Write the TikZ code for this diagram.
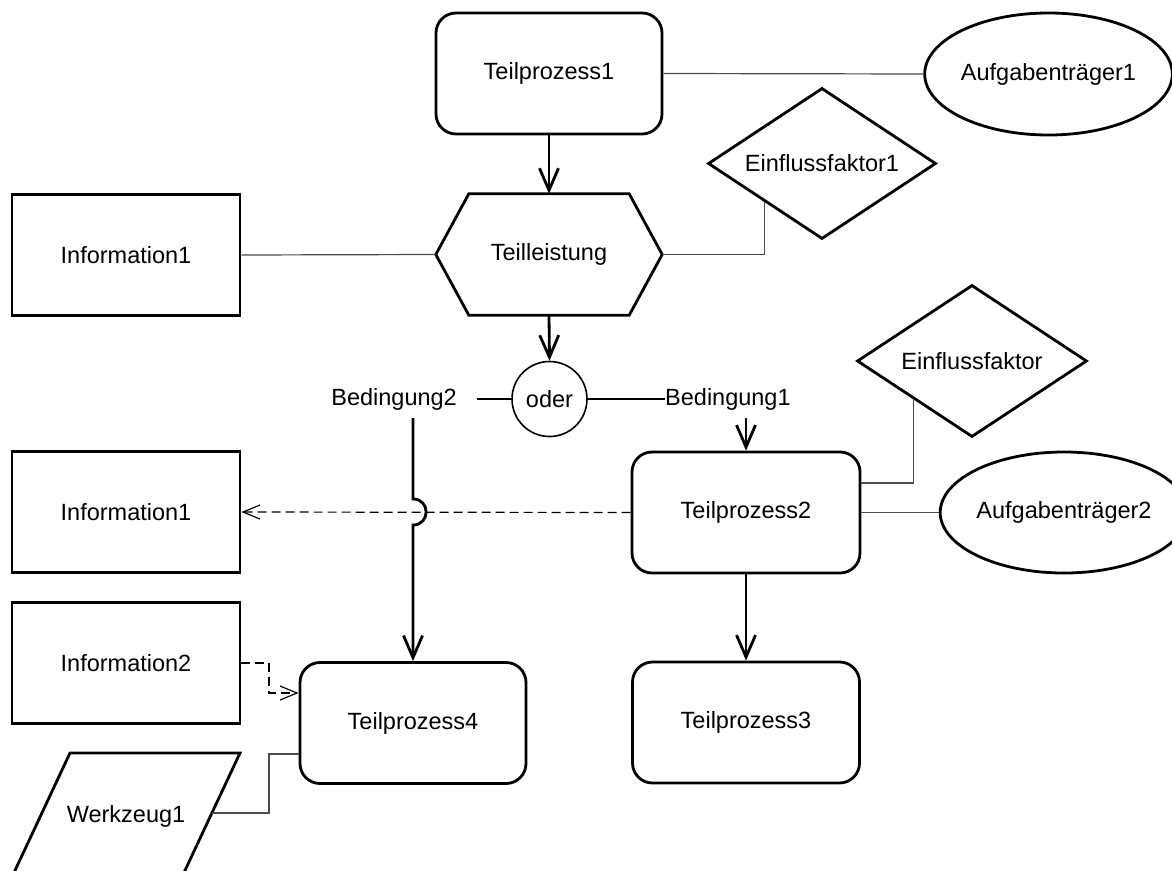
\documentclass[tikz,border=0pt]{standalone}
\usepackage{fontspec}
\setmainfont{Liberation Sans}
\usetikzlibrary{shapes.geometric,arrows.meta,calc}
\begin{document}
\begin{tikzpicture}[x=1pt,y=-1pt,
  every node/.style={font=\fontsize{23.5}{27}\selectfont, inner sep=0pt},
  box/.style={draw, line width=2.8pt, minimum width=228pt, minimum height=121pt},
  proc/.style={box, rounded corners=20pt, minimum width=226pt},
  ell/.style={draw, ellipse, line width=2.8pt, minimum width=227pt, minimum height=122pt},
  dia/.style={draw, diamond, line width=2.8pt, minimum width=228pt, minimum height=151pt, aspect=1.5},
  flow/.style={line width=2.8pt, -{Straight Barb[length=22pt,width=19pt]}},
  assoc/.style={line width=1.2pt, draw=black!70},
  dataflow/.style={line width=1.2pt, dash pattern=on 9pt off 5pt, -{Straight Barb[length=17pt,width=14pt]}},
]
\useasboundingbox[fill=white] (0,0) rectangle (1172,870);

% nodes
\node[proc] (tp1) at (549,73.5) {Teilprozess1};
\node[ell] (at1) at (1048.5,74) {Aufgabenträger1};
\node[dia] (ef1) at (822,163.5) {Einflussfaktor1};
\node[box] (inf1) at (126,255) {Information1};
\node[minimum width=226pt, minimum height=121pt] (tl) at (549,254.5) {Teilleistung};
\draw[line width=2.8pt, line join=miter]
  (tl.west) -- ([xshift=33pt]tl.north west) -- ([xshift=-33pt]tl.north east)
  -- (tl.east) -- ([xshift=-33pt]tl.south east) -- ([xshift=33pt]tl.south west) -- cycle;
\node[circle, draw, line width=1.6pt, minimum size=75pt] (oder) at (549.5,399) {oder};
\node[anchor=east] (b2) at (457,399) {Bedingung2};
\node[anchor=west] (b1) at (665,399) {Bedingung1};
\node[dia, minimum width=230pt, minimum height=152pt] (ef) at (972,361) {Einflussfaktor};
\node[proc, minimum width=228pt] (tp2) at (746,512.5) {Teilprozess2};
\node[ell, minimum width=228pt, minimum height=121pt] (at2) at (1064,512.5) {Aufgabenträger2};
\node[box] (inf1b) at (126,512) {Information1};
\node[box] (inf2) at (126,663) {Information2};
\node[proc] (tp4) at (413,723) {Teilprozess4};
\node[proc, minimum width=227pt] (tp3) at (746,722.5) {Teilprozess3};

% Werkzeug1 parallelogram
\coordinate (wzA) at (70,753);
\coordinate (wzB) at (240,753);
\coordinate (wzC) at (181,879);
\coordinate (wzD) at (11,879);
\draw[line width=2.8pt, line join=miter] (wzA) -- (wzB) -- (wzC) -- (wzD) -- cycle;
\node (wz) at (126,816) {Werkzeug1};
\coordinate (wzr) at (211.8,813);

% helper coordinates
\coordinate (b2r) at (477,399);
\coordinate (b2d) at (413,418);
\coordinate (hopT) at (413,499);
\coordinate (hopB) at (413,525);
\coordinate (b1d) at (746,418);
\coordinate (d1) at (269,693);
\coordinate (w1) at (269,754);

% flows
\draw[flow] (tp1.south) -- (tl.north);
\draw[flow] (tl.south) -- (oder.north);
\draw[line width=2.8pt] (oder.west) -- (b2r);
\draw[line width=2.8pt] (oder.east) -- (oder.east -| b1.west);
\draw[flow] (b1d) -- (tp2.north);
\draw[flow] (b2d) -- (hopT) .. controls (430.5,499) and (430.5,525) .. (hopB) -- (tp4.north);
\draw[flow] (tp2.south) -- (tp3.north);

% associations
\draw[assoc] (tp1.east) -- (at1.west);
\draw[assoc] (tl.east) -| (ef1.south west);
\draw[assoc] (inf1.east) -- (tl.west);
\draw[assoc] (ef.south west) |- ([yshift=29.5pt]tp2.east);
\draw[assoc] (tp2.east) -- (at2.west);
\draw[assoc] (wzr) -| (w1) -- (w1 -| tp4.west);

% data flows
\draw[dataflow] (tp2.west) -- (inf1b.east);
\draw[dataflow] (inf2.east) -| (d1) -- (d1 -| tp4.west);
\end{tikzpicture}
\end{document}
